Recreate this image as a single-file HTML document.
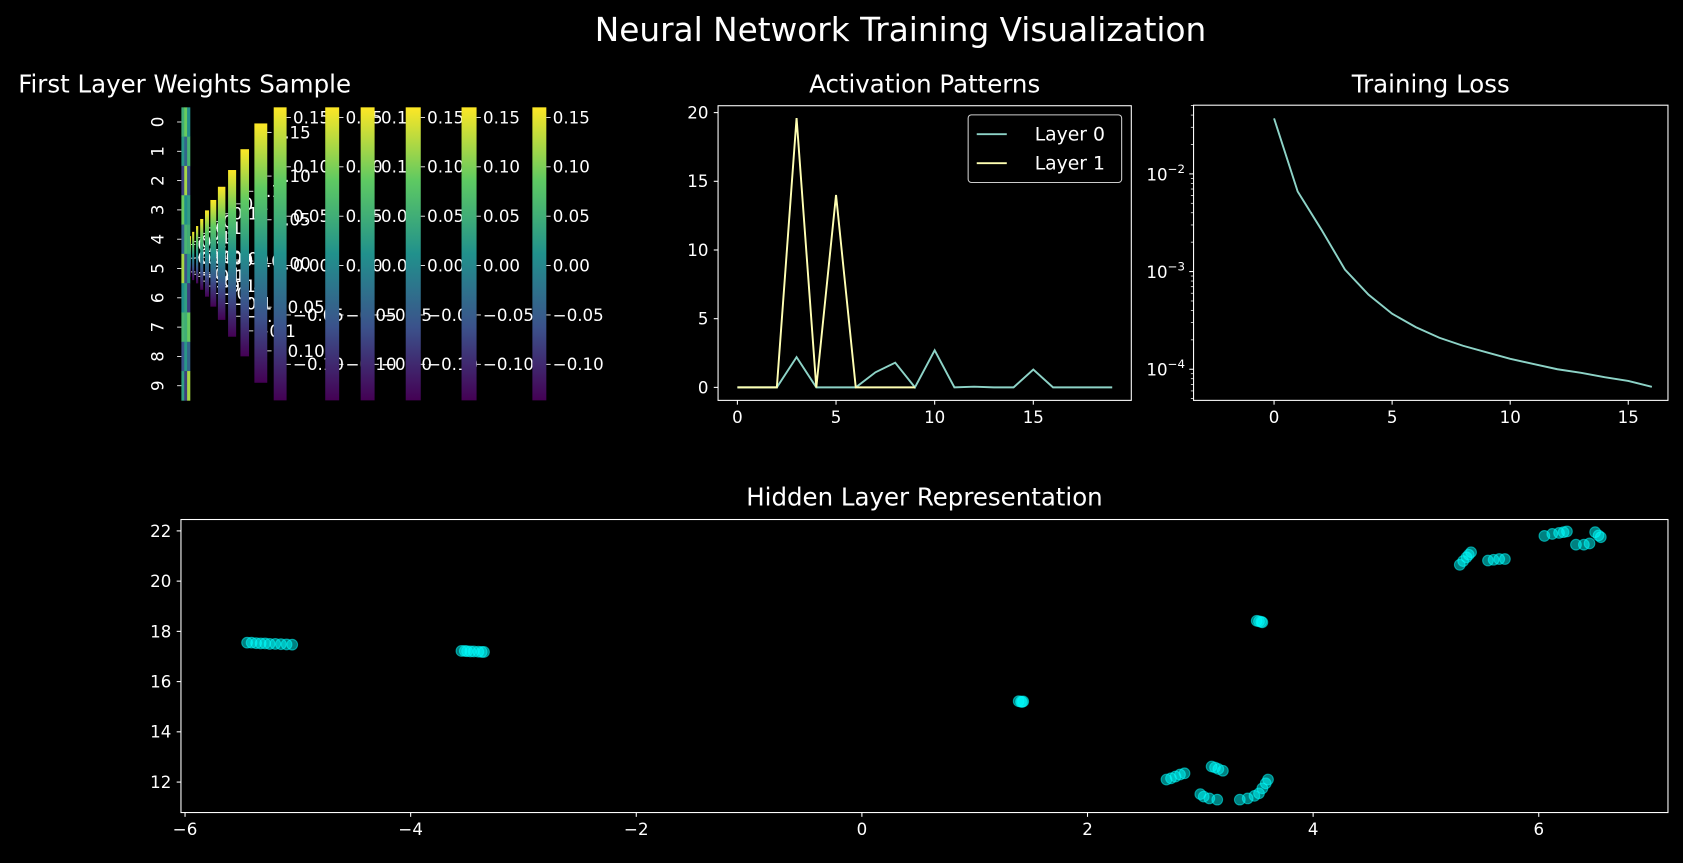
<!DOCTYPE html>
<html><head><meta charset="utf-8"><style>
html,body{margin:0;padding:0;background:#000;}
svg{display:block;font-family:"DejaVu Sans","Liberation Sans",sans-serif;}
</style></head><body>
<svg id="fig" width="1683" height="863" viewBox="0 0 1568 804" preserveAspectRatio="none" xmlns="http://www.w3.org/2000/svg">
<defs>
<linearGradient id="vir" x1="0" y1="1" x2="0" y2="0">
<stop offset="0" stop-color="#440154"/><stop offset="0.25" stop-color="#3b528b"/><stop offset="0.5" stop-color="#21918c"/><stop offset="0.75" stop-color="#5ec962"/><stop offset="1" stop-color="#fde725"/>
</linearGradient>
</defs>
<rect width="1568" height="804" fill="#000"/>
<text x="839" y="38" fill="#fff" font-size="30.5" text-anchor="middle">Neural Network Training Visualization</text>
<g id="p1"></g>
<g id="p2"></g>
<g id="p3"></g>
<g id="p4"></g>
</svg>
<script>
// ---------- data ----------
const weightRows = [0,1,2,3,4,5,6,7,8,9];
const weightCells = [0.05,0.02,-0.08,0.09,-0.04,0.12,0.01,0.06,-0.06,0.03];
const cbarTicks = [0.15,0.10,0.05,0.00,-0.05,-0.10];
const cbarTickLabels = ["0.15","0.10","0.05","0.00","\u22120.05","\u22120.10"];
const cbarShortTicks = [0.1,0.0,-0.1];
const cbarShortLabels = ["0.1","0.0","\u22120.1"];

const actX = [0,1,2,3,4,5,6,7,8,9,10,11,12,13,14,15,16,17,18,19];
const layer0 = [0,0,0,2.2,0,0,0,1.1,1.8,0,2.7,0,0.05,0,0,1.3,0,0,0,0];
const layer1 = [0,0,0,19.6,0,14,0,0,0,0];
const actXTicks = [0,5,10,15];
const actYTicks = [0,5,10,15,20];

const lossX = [0,1,2,3,4,5,6,7,8,9,10,11,12,13,14,15,16];
const lossY = [0.037,0.0066,0.0027,0.00105,0.00058,0.00037,0.00027,0.00021,0.000174,0.000149,0.000128,0.000113,0.0001,0.000092,0.000083,0.000076,0.000066];
const lossXTicks = [0,5,10,15];
const lossYTicks = [-2,-3,-4];

const hidX = [-5.45,-5.41,-5.37,-5.33,-5.29,-5.25,-5.2,-5.15,-5.1,-5.05,
 -3.55,-3.52,-3.5,-3.47,-3.44,-3.4,-3.37,-3.35,
 1.39,1.41,1.43,1.42,
 3.5,3.52,3.54,3.55,
 2.7,2.74,2.78,2.82,2.86,3.1,3.13,3.16,3.2,3.0,3.03,3.08,3.15,3.35,3.42,3.48,3.52,3.55,3.58,3.6,
 5.3,5.33,5.36,5.38,5.4,5.55,5.6,5.65,5.7,6.05,6.12,6.18,6.22,6.25,6.33,6.4,6.45,6.5,6.53,6.55];
const hidY = [17.55,17.55,17.53,17.52,17.52,17.5,17.5,17.49,17.48,17.47,
 17.22,17.22,17.21,17.2,17.2,17.19,17.18,17.18,
 15.22,15.2,15.21,15.19,
 18.42,18.4,18.38,18.36,
 12.1,12.15,12.22,12.3,12.35,12.62,12.58,12.52,12.45,11.52,11.42,11.35,11.3,11.3,11.35,11.45,11.55,11.75,11.95,12.1,
 20.65,20.8,20.95,21.05,21.15,20.82,20.85,20.88,20.88,21.8,21.88,21.92,21.95,21.98,21.45,21.45,21.5,21.95,21.82,21.75];
const hidXTicks = [-6,-4,-2,0,2,4,6];
const hidYTicks = [12,14,16,18,20,22];

// ---------- helpers ----------
const NS = "http://www.w3.org/2000/svg";
const TICK = 15.5, TITLE = 22.8;
function mk(parent, tag, attrs){ const e=document.createElementNS(NS,tag); for(const k in attrs) e.setAttribute(k,attrs[k]); parent.appendChild(e); return e; }
function txt(parent, x, y, s, size, anchor){ const t=mk(parent,'text',{x:x,y:y,fill:'#fff','font-size':size||TICK,'text-anchor':anchor||'middle'}); t.textContent=s; return t; }
function viridis(t){ const c=[[68,1,84],[59,82,139],[33,145,140],[94,201,98],[253,231,37]]; t=Math.max(0,Math.min(1,t))*4; const i=Math.min(3,Math.floor(t)), f=t-i; const a=c[i], b=c[i+1]; return 'rgb('+a.map((v,k)=>Math.round(v+(b[k]-v)*f)).join(',')+')'; }

// ---------- panel 1: weights heatmap + colorbars ----------
(function(){
 const g=document.getElementById('p1');
 const t=txt(g,172,86,'First Layer Weights Sample',TITLE);
 
 
 const top=100, bot=373, hx0=169, hx1=177, rowH=(bot-top)/weightRows.length;
 weightRows.forEach((r,i)=>{
   const y=top+i*rowH;
   for(let c=0;c<3;c++){
     const v=weightCells[(i+c*3)%weightCells.length];
     const cell=mk(g,'rect',{x:hx0+c*(hx1-hx0)/3,y:y,width:(hx1-hx0)/3+0.3,height:rowH+0.3,fill:viridis((v+0.136)/0.296)});
     
     
   }
   mk(g,'line',{x1:hx0-4,x2:hx0,y1:y+rowH/2,y2:y+rowH/2,stroke:'#fff','stroke-width':0.8});
   const lab=txt(g,0,0,String(r),TICK);
   lab.setAttribute('transform','translate(148,'+(y+rowH/2)+') rotate(-90)');
   lab.setAttribute('dominant-baseline','middle');
   
   
 });
 const bars=[[177,178,220,258],[179,181,216,261],[182.6,184.7,210.6,264],[186.5,189.4,204,270],[191,194.7,196,276.4],[196,201.5,186.3,285.7],[203,210,174,298],[212.5,220,158.4,313.7],[224,232,139,332],[237,249,115,356.6],[255,267,100,373],[303,316,100,373],[336,349,100,373],[378,392,100,373],[430,444,100,373],[496,509,100,373]];
 bars.forEach(b=>{
   const [x0,x1,t0,b0]=b, h=b0-t0;
   const r=mk(g,'rect',{x:x0,y:t0,width:x1-x0,height:h,fill:'url(#vir)'});
   
   
   const zero=t0+0.54*h, per=h/273*920;
   const full=h>200;
   const vals= full?cbarTicks:cbarShortTicks, labs= full?cbarTickLabels:cbarShortLabels;
   vals.forEach((v,i)=>{
     const y=zero-v*per;
     if(y<t0-1||y>b0+1) return;
     mk(g,'line',{x1:x1,x2:x1+4,y1:y,y2:y,stroke:'#fff','stroke-width':0.8});
     const tl=txt(g,x1+6,y+5.5,labs[i],TICK,'start');
     
     
   });
 });
})();

// ---------- panel 2: activation patterns ----------
(function(){
 const g=document.getElementById('p2');
 const L=669,R=1054,T=98.5,B=373;
 const sx=v=>687+v*18.38, sy=v=>360.9-v*12.8;
 const t=txt(g,(L+R)/2,86,'Activation Patterns',TITLE);
 
 
 const pl=(arr,col,name)=>{ const p=mk(g,'polyline',{points:arr.map((v,i)=>sx(actX[i])+','+sy(v)).join(' '),fill:'none',stroke:col,'stroke-width':1.8});
   
    };
 pl(layer0,'#8dd3c7','layer-0-line');
 pl(layer1,'#ffffb3','layer-1-line');
 mk(g,'rect',{x:L,y:T,width:R-L,height:B-T,fill:'none',stroke:'#fff','stroke-width':1});
 actXTicks.forEach(v=>{ mk(g,'line',{x1:sx(v),x2:sx(v),y1:B,y2:B+4,stroke:'#fff'}); const l=txt(g,sx(v),B+21,String(v),TICK);   });
 actYTicks.forEach(v=>{ mk(g,'line',{x1:L-4,x2:L,y1:sy(v),y2:sy(v),stroke:'#fff'}); const l=txt(g,L-9,sy(v)+5.5,String(v),TICK,'end');   });
 const lg=mk(g,'g',{});
 
 
 mk(lg,'rect',{x:902,y:107,width:143,height:63,rx:3,fill:'#000',stroke:'#ccc','stroke-width':1});
 mk(lg,'line',{x1:910,x2:938,y1:125,y2:125,stroke:'#8dd3c7','stroke-width':1.8});
 txt(lg,964,131,'Layer 0',17.5,'start');
 mk(lg,'line',{x1:910,x2:938,y1:152,y2:152,stroke:'#ffffb3','stroke-width':1.8});
 txt(lg,964,158,'Layer 1',17.5,'start');
})();

// ---------- panel 3: training loss ----------
(function(){
 const g=document.getElementById('p3');
 const L=1112,R=1554,T=98,B=373;
 const sx=v=>1187+v*22, sy=v=>162-(Math.log10(v)+2)*91;
 const t=txt(g,(L+R)/2,86,'Training Loss',TITLE);
 
 
 const p=mk(g,'polyline',{points:lossY.map((v,i)=>sx(lossX[i])+','+sy(v)).join(' '),fill:'none',stroke:'#8dd3c7','stroke-width':1.8});
 
 
 mk(g,'rect',{x:L,y:T,width:R-L,height:B-T,fill:'none',stroke:'#fff','stroke-width':1});
 lossXTicks.forEach(v=>{ mk(g,'line',{x1:sx(v),x2:sx(v),y1:B,y2:B+4,stroke:'#fff'}); const l=txt(g,sx(v),B+21,String(v),TICK);   });
 for(let d=-5;d<=-2;d++) for(let m=2;m<=9;m++){ const y=sy(m*Math.pow(10,d)); if(y>T&&y<B) mk(g,'line',{x1:L-2.5,x2:L,y1:y,y2:y,stroke:'#fff','stroke-width':0.7}); }
 lossYTicks.forEach(e=>{ const y=sy(Math.pow(10,e)); mk(g,'line',{x1:L-4,x2:L,y1:y,y2:y,stroke:'#fff'});
   const l=mk(g,'text',{x:L-8,y:y+6,fill:'#fff','font-size':TICK,'text-anchor':'end'});
   
   
   l.innerHTML='10<tspan dy="-7" font-size="11">\u2212'+(-e)+'</tspan>'; });
})();

// ---------- panel 4: hidden layer scatter ----------
(function(){
 const g=document.getElementById('p4');
 const L=168.6,R=1554,T=484,B=757;
 const sx=v=>803+v*105.1, sy=v=>728.6-(v-12)*23.4;
 const t=txt(g,(L+R)/2,471,'Hidden Layer Representation',TITLE);
 
 
 hidX.forEach((x,i)=>{ const c=mk(g,'circle',{cx:sx(x),cy:sy(hidY[i]),r:5,fill:'#00ffff','fill-opacity':0.5,stroke:'#00ffff','stroke-opacity':0.5});
   
    });
 mk(g,'rect',{x:L,y:T,width:R-L,height:B-T,fill:'none',stroke:'#fff','stroke-width':1});
 hidXTicks.forEach(v=>{ mk(g,'line',{x1:sx(v),x2:sx(v),y1:B,y2:B+4,stroke:'#fff'}); const l=txt(g,sx(v),B+21,(v<0?'\u2212':'')+Math.abs(v),TICK);   });
 hidYTicks.forEach(v=>{ mk(g,'line',{x1:L-4,x2:L,y1:sy(v),y2:sy(v),stroke:'#fff'}); const l=txt(g,L-9,sy(v)+5.5,String(v),TICK,'end');   });
})();
</script>
</body></html>
